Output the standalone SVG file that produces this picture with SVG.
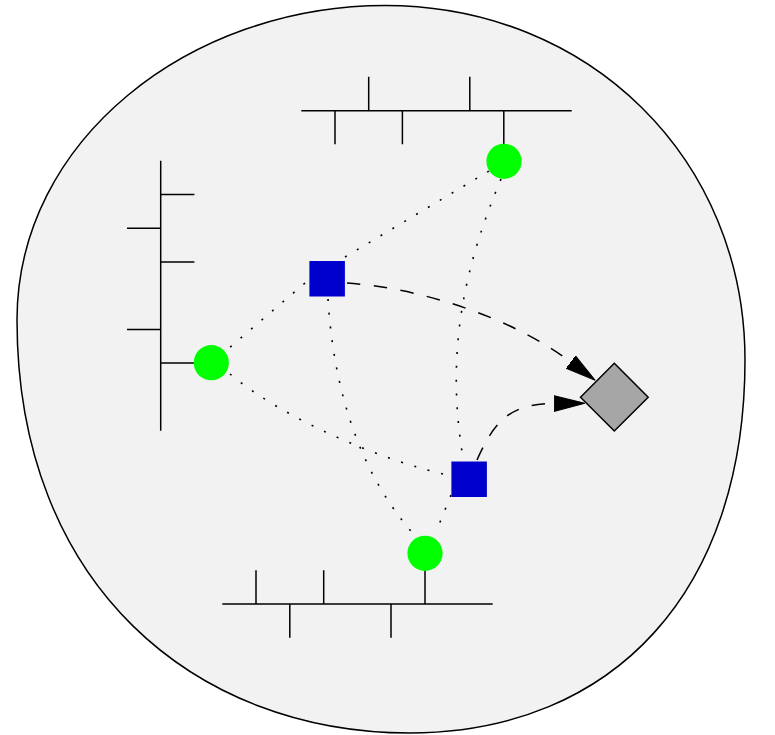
<svg xmlns="http://www.w3.org/2000/svg" width="775" height="735" viewBox="0 0 775 735">
  <style>
    .blob { fill: #f2f2f2; stroke: #000; stroke-width: 1.5; }
    .bus { stroke: #000; stroke-width: 1.5; fill: none; stroke-linecap: butt; }
    .host { fill: #00ff00; stroke: none; }
    .router { fill: #0000cc; stroke: none; }
    .target { fill: #a6a6a6; stroke: #000; stroke-width: 1.5; stroke-linejoin: miter; }
    .dot { fill: none; stroke: #000; stroke-width: 1.6; stroke-dasharray: 2 11.8; }
    .dash { fill: none; stroke: #000; stroke-width: 1.5; stroke-dasharray: 13.5 13.5; }
  </style>
  <defs>
    <marker id="arrow" markerUnits="userSpaceOnUse" viewBox="0 -10 34 20" markerWidth="34" markerHeight="20" refX="0" refY="0" orient="auto">
      <path d="M0,-7.8 L30.5,0 L0,7.8 Z" fill="#000" stroke="#000" stroke-width="1" stroke-dasharray="none"/>
    </marker>
  </defs>

  <g id="area">
    <path class="blob" d="M385,5.5 C590,5.5 745,160 745,360 C745,590 615,732 410,733 C195,733 17,585 17,320 C17,140 190,5.5 385,5.5 Z"/>
  </g>

  <g id="bus-top">
    <path class="bus" d="M301.3,110.7 H571.7 M368.7,76.7 V110.7 M469.8,76.7 V110.7 M335,110.7 V144.3 M402.4,110.7 V144.3 M503.8,110.7 V144"/>
  </g>
  <g id="bus-left">
    <path class="bus" d="M160.7,160.7 V430.7 M160.7,194.5 H194.4 M160.7,261.9 H194.4 M160.7,362.9 H194.4 M127,228.2 H160.7 M127,329.5 H160.7"/>
  </g>
  <g id="bus-bottom">
    <path class="bus" d="M222.3,604 H492.7 M256,570.3 V604 M323.7,570.3 V604 M425,570.5 V604 M289.8,604 V637.7 M391,604 V637.7"/>
  </g>

  <g id="connectors">
    <path class="dot" d="M345,257 L489,171"/>
    <path class="dot" d="M501,179 C465,265 445,350 463,458"/>
    <path class="dot" d="M305,283 L228,349"/>
    <path class="dot" d="M230,374 C285,420 385,462 452,476"/>
    <path class="dot" d="M328,299 C333,380 355,470 417,538"/>
    <path class="dot" d="M451,495 L436,532"/>
    <path class="dash" d="M347,283 C420,288 511,317 570.8,362" marker-end="url(#arrow)"/>
    <path class="dash" d="M477,460 C495,420 510,404 554.3,403.5" marker-end="url(#arrow)"/>
  </g>

  <g id="host-top">
    <circle class="host" cx="504" cy="161.3" r="17.6"/>
  </g>
  <g id="host-left">
    <circle class="host" cx="211.3" cy="362.7" r="17.6"/>
  </g>
  <g id="host-bottom">
    <circle class="host" cx="425" cy="553.3" r="17.6"/>
  </g>
  <g id="router-1">
    <rect class="router" x="309.4" y="261" width="35.5" height="35.5"/>
  </g>
  <g id="router-2">
    <rect class="router" x="451.4" y="461.5" width="35.5" height="35.5"/>
  </g>
  <g id="target">
    <polygon class="target" points="614.3,363.3 648.2,397.2 614.3,431 580.5,397.2"/>
  </g>
</svg>
